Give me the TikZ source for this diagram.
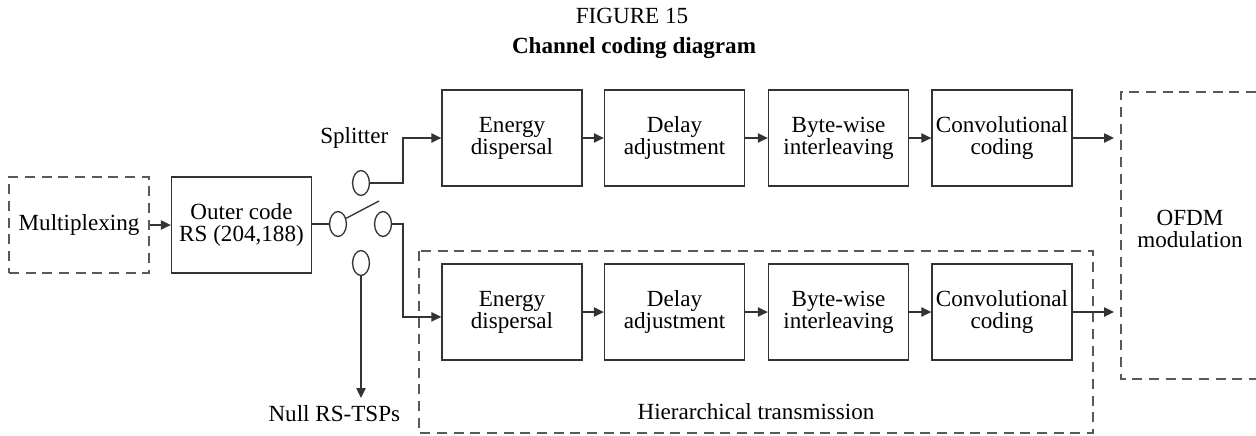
\documentclass[tikz,border=0pt]{standalone}
\usepackage{fontspec}
\setmainfont{Liberation Serif}
\usetikzlibrary{arrows.meta,shapes.geometric,positioning}

\begin{document}
\begin{tikzpicture}[x=0.45pt,y=-0.45pt,
        font=\fontsize{10.4}{10}\selectfont,
        blk/.style={draw=black!80,line width=0.6pt,minimum width=63pt,minimum height=43.2pt,align=center,inner sep=1pt},
        dashblk/.style={blk,draw=black!65,dash pattern=on 4.5pt off 3pt},
        dashline/.style={draw=black!65,line width=0.6pt,dash pattern=on 4.5pt off 3pt},
        wire/.style={draw=black!80,line width=0.6pt},
        arr/.style={wire,-{Triangle[length=4.5pt,width=4.2pt]}},
        contact/.style={draw=black!80,line width=0.6pt,ellipse,minimum width=7.6pt,minimum height=11.2pt,inner sep=0pt}]
        \useasboundingbox (0,0) rectangle (1256,435);

        \node (fig) at (632,16) {FIGURE 15};
        \node[font=\fontsize{10.4}{10}\selectfont\bfseries] (title) at (634,48) {Channel coding diagram};

        \node[dashblk] (mux) at (79,225) {Multiplexing};
        \node[blk] (outer) at (241.5,225) {Outer code\\RS (204,188)};

        % upper chain
        \node[blk] (energyA) at (512,138) {Energy\\dispersal};
        \node[blk] (delayA) at (674.5,138) {Delay\\adjustment};
        \node[blk] (byteA) at (838.5,138) {Byte-wise\\interleaving};
        \node[blk] (convA) at (1002,138) {Convolutional\\coding};

        % hierarchical chain
        \draw[dashline] (419,251) rectangle (1093,433);
        \node (hier) at (756,412) {Hierarchical transmission};
        \node[blk] (energyB) at (512,312) {Energy\\dispersal};
        \node[blk] (delayB) at (674.5,312) {Delay\\adjustment};
        \node[blk] (byteB) at (838.5,312) {Byte-wise\\interleaving};
        \node[blk] (convB) at (1002,312) {Convolutional\\coding};

        % OFDM block, open to the right
        \draw[dashline] (1256,92) -| (1121,379) -- (1256,379);
        \node[align=center] (ofdm) at (1190,229) {OFDM\\modulation};
        \coordinate (ofdmin) at (1114,0);

        % splitter
        \node[contact] (cin) at (338,224) {};
        \node[contact] (ctop) at (361,183) {};
        \node[contact] (cright) at (383,224) {};
        \node[contact] (cnull) at (361,263) {};
        \coordinate (arm) at (379,201);
        \coordinate (nullend) at (361,398);
        \node[above=6pt of ctop,xshift=-3pt] (split) {Splitter};
        \node[below=0pt of nullend,xshift=-12pt] (null) {Null RS-TSPs};

        \draw[arr] (mux) -- (outer);
        \draw[wire] (outer.east |- cin) -- (cin.west);
        \draw[wire] (cin.35) -- (arm);
        \draw[arr] (ctop.east) -- ++(33,0) |- (energyA.west);
        \draw[arr] (cright.east) -- ++(11,0) |- ([yshift=-2.2pt]energyB.west);
        \draw[arr] (cnull.south) -- (nullend);

        \draw[arr] (energyA) -- (delayA);
        \draw[arr] (delayA) -- (byteA);
        \draw[arr] (byteA) -- (convA);
        \draw[arr] (convA.east) -- (convA.east -| ofdmin);
        \draw[arr] (energyB) -- (delayB);
        \draw[arr] (delayB) -- (byteB);
        \draw[arr] (byteB) -- (convB);
        \draw[arr] (convB.east) -- (convB.east -| ofdmin);
\end{tikzpicture}
\end{document}
